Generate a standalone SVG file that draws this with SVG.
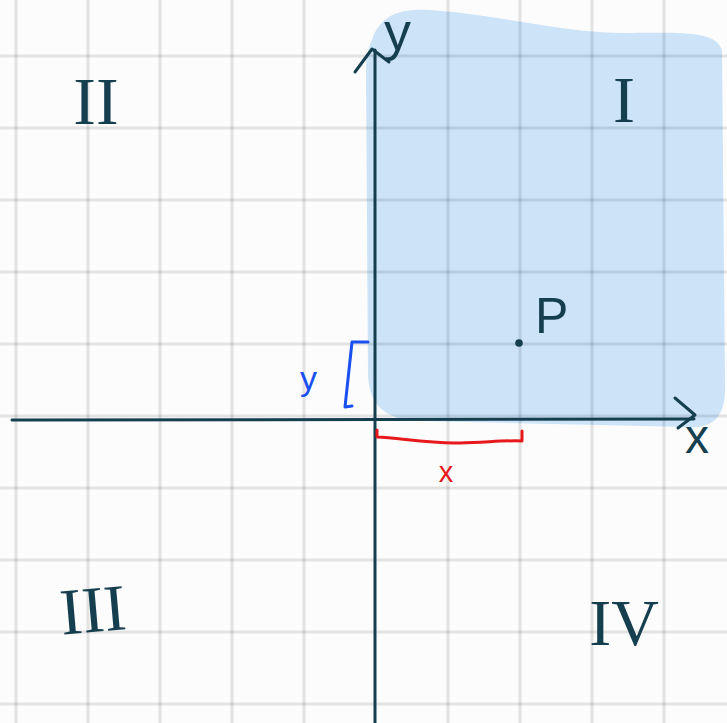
<svg xmlns="http://www.w3.org/2000/svg" width="727" height="723" viewBox="0 0 727 723">
<style>
.grid line{stroke:#000;stroke-opacity:0.1;stroke-width:3}
.ax{stroke:#153f4f;stroke-width:3;fill:none;stroke-linecap:round;stroke-linejoin:round}
.rn{font-family:"Liberation Serif",serif;fill:#153f4f;text-anchor:middle}
.lbl{font-family:"Liberation Sans",sans-serif;fill:#153f4f}
</style>
<rect width="727" height="723" fill="#fcfcfc"/>
<path id="region" d="M372 40 C380 15 400 8 430 10 C500 15 560 32 620 33 C680 33 715 30 722 50 L725 385 C726 418 712 429 688 427 L420 421 C382 420 368 402 368 372 L366 72 C366 58 368 48 372 40 Z" fill="#cce3f8"/>
<g class="grid">
<line x1="16" y1="0" x2="16" y2="723"/><line x1="88" y1="0" x2="88" y2="723"/><line x1="160" y1="0" x2="160" y2="723"/><line x1="232" y1="0" x2="232" y2="723"/><line x1="304" y1="0" x2="304" y2="723"/><line x1="448" y1="0" x2="448" y2="723"/><line x1="520" y1="0" x2="520" y2="723"/><line x1="592" y1="0" x2="592" y2="723"/><line x1="664" y1="0" x2="664" y2="723"/>
<line x1="0" y1="56" x2="727" y2="56"/><line x1="0" y1="128" x2="727" y2="128"/><line x1="0" y1="200" x2="727" y2="200"/><line x1="0" y1="272" x2="727" y2="272"/><line x1="0" y1="344" x2="727" y2="344"/><line x1="0" y1="416" x2="727" y2="416"/><line x1="0" y1="488" x2="727" y2="488"/><line x1="0" y1="560" x2="727" y2="560"/><line x1="0" y1="632" x2="727" y2="632"/><line x1="0" y1="704" x2="727" y2="704"/>
</g>
<g id="connectors">
<path class="ax" d="M375 50 L375 723"/>
<path class="ax" d="M355 72 L372 49 L389 62"/>
<path class="ax" d="M12 420 L694 419"/>
<path class="ax" d="M675 398 L695 415 L678 428"/>
<path d="M368 342 L352 342 L345 407 L352 406" fill="none" stroke="#1a4ff0" stroke-width="3" stroke-linecap="round" stroke-linejoin="round"/>
<path d="M377 430 L377 437 C400 438 430 444 460 443 C490 442 510 440 522 441 L522 431" fill="none" stroke="#e8191c" stroke-width="3" stroke-linecap="round" stroke-linejoin="round"/>
</g>
<g id="label-y-axis"><text class="lbl" x="384" y="50" font-size="54">y</text></g>
<g id="label-x-axis"><text class="lbl" x="697" y="453" font-size="48" text-anchor="middle">x</text></g>
<g id="quadrant-I"><text class="rn" x="624" y="122" font-size="66">I</text></g>
<g id="quadrant-II"><text class="rn" x="96" y="124" font-size="68">II</text></g>
<g id="quadrant-III"><text class="rn" x="93" y="632" font-size="66" transform="rotate(-5 93 610)">III</text></g>
<g id="quadrant-IV"><text class="rn" x="624" y="645" font-size="66">IV</text></g>
<g id="point-P">
<circle cx="519" cy="343" r="3.8" fill="#153f4f"/>
<text class="lbl" x="535" y="333" font-size="50">P</text>
</g>
<g id="label-y-dist"><text x="300" y="390" font-family="Liberation Sans, sans-serif" font-size="34" fill="#1a4ff0">y</text></g>
<g id="label-x-dist"><text x="446" y="482" font-family="Liberation Sans, sans-serif" font-size="29" fill="#e8191c" text-anchor="middle">x</text></g>
</svg>
